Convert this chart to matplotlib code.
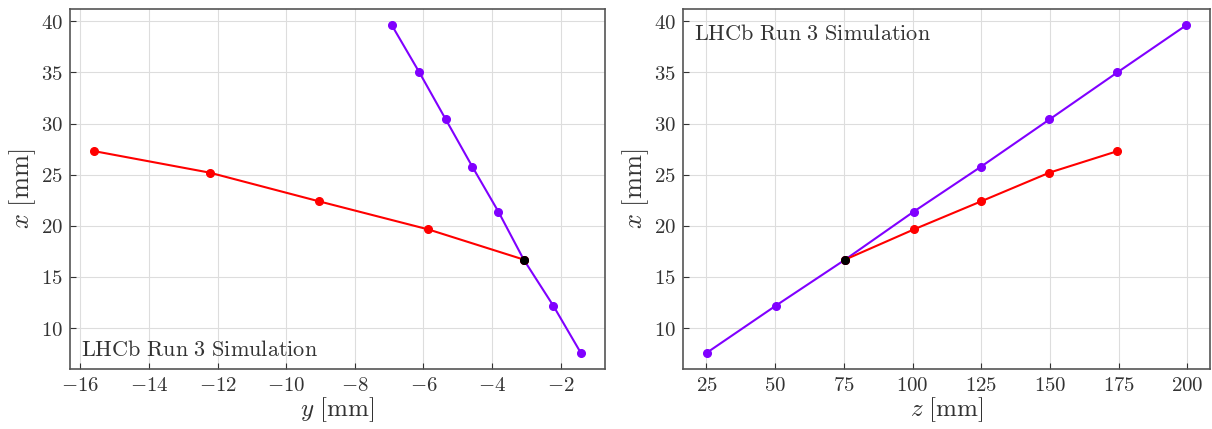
import numpy as np
import matplotlib
matplotlib.use("Agg")
import matplotlib.pyplot as plt
from matplotlib.ticker import FuncFormatter

plt.rcParams['mathtext.fontset'] = 'cm'
plt.rcParams['font.family'] = 'serif'
plt.rcParams['font.serif'] = ['DejaVu Serif']

# track A (purple) hits
za = [25.2, 50.3, 75.5, 100.5, 125.0, 149.8, 174.5, 199.5]
xa = [7.6, 12.2, 16.7, 21.4, 25.8, 30.4, 35.0, 39.6]
ya = [-1.42, -2.22, -3.08, -3.82, -4.58, -5.35, -6.12, -6.92]

# track B (red) hits
zb = [75.5, 100.5, 125.0, 149.8, 174.5]
xb = [16.7, 19.65, 22.4, 25.2, 27.3]
yb = [-3.08, -5.86, -9.05, -12.23, -15.59]

# shared vertex
zv, xv, yv = 75.5, 16.7, -3.08

purple = '#8000ff'
red = '#ff0000'
label = r'$\mathrm{LHCb\ Run\ 3\ Simulation}$'
mathfmt = FuncFormatter(lambda v, p: r'$%g$' % v)

W, H = 1212, 429
fig = plt.figure(figsize=(W / 100, H / 100), dpi=100)
ax1 = fig.add_axes([70 / W, 60 / H, 535 / W, 360 / H])
ax2 = fig.add_axes([683 / W, 60 / H, 527 / W, 360 / H])

for ax in (ax1, ax2):
    ax.grid(True, color='#dddddd', linewidth=0.8)
    ax.set_axisbelow(True)
    ax.tick_params(direction='in', length=4, labelsize=15, colors='#333333', pad=5)
    ax.xaxis.set_major_formatter(mathfmt)
    ax.yaxis.set_major_formatter(mathfmt)
    for s in ax.spines.values():
        s.set_color('#555555')
        s.set_linewidth(1.2)

ax1.plot(ya, xa, '-o', color=purple, ms=5.5, lw=1.5)
ax1.plot(yb, xb, '-o', color=red, ms=5.5, lw=1.5)
ax1.plot([yv], [xv], 'o', color='black', ms=5.5)
ax1.set_xlabel(r'$y\ [\mathrm{mm}]$', fontsize=18, color='#333333', labelpad=0)
ax1.set_ylabel(r'$x\ [\mathrm{mm}]$', fontsize=19, color='#333333', labelpad=2)
ax1.text(0.02, 0.035, label, transform=ax1.transAxes, fontsize=16, color='#333333')

ax2.plot(za, xa, '-o', color=purple, ms=5.5, lw=1.5)
ax2.plot(zb, xb, '-o', color=red, ms=5.5, lw=1.5)
ax2.plot([zv], [xv], 'o', color='black', ms=5.5)
ax2.set_xticks([25, 50, 75, 100, 125, 150, 175, 200])
ax2.set_xlabel(r'$z\ [\mathrm{mm}]$', fontsize=18, color='#333333', labelpad=0)
ax2.set_ylabel(r'$x\ [\mathrm{mm}]$', fontsize=19, color='#333333', labelpad=2)
ax2.text(0.02, 0.915, label, transform=ax2.transAxes, fontsize=16, color='#333333')

fig.savefig('out.png', dpi=100)
